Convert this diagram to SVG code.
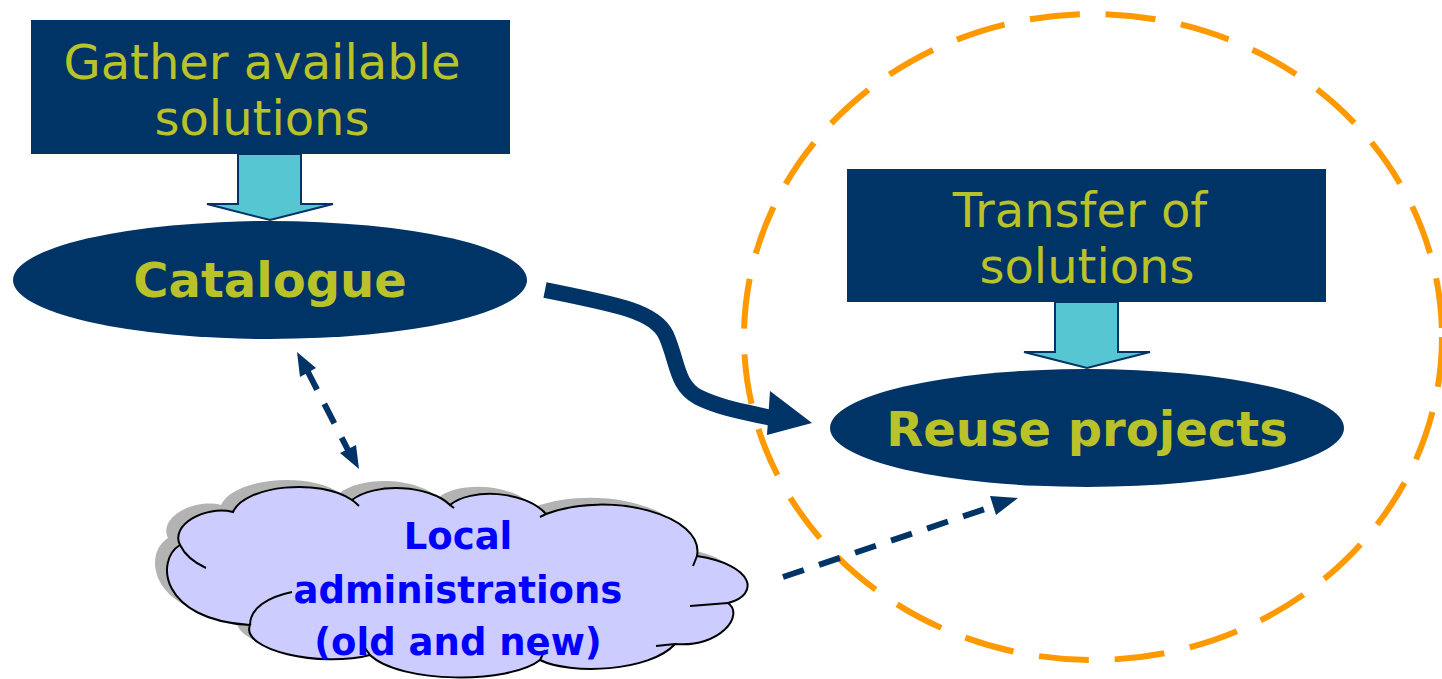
<svg xmlns="http://www.w3.org/2000/svg" width="1442" height="679" viewBox="0 0 1442 679">
<style>
.box{fill:#003366}
.t{font-family:"DejaVu Sans",Verdana,sans-serif;fill:#b9c228;text-anchor:middle}
.reg{font-size:48px}
.bold{font-size:48px;font-weight:bold}
.blk{fill:#55c6d2;stroke:#003366;stroke-width:2}
.ct{font-family:"DejaVu Sans",Verdana,sans-serif;fill:#0000ff;font-weight:bold;font-size:37px;text-anchor:middle}
.dash{fill:none;stroke:#003366;stroke-width:6;stroke-dasharray:22 16}
</style>
<defs>
<path id="cloud" d="M180 545 C170 525 205 505 233 512 C245 485 320 478 352 500 C375 482 430 485 450 505 C470 488 525 490 546 514 C610 490 705 515 697 556 C755 565 760 595 728 603 C745 615 720 648 675 644 C650 672 570 675 540 660 C510 684 400 684 370 655 C320 668 240 650 250 625 C160 620 155 560 180 545 Z"/>
</defs>
<g id="circle">
<ellipse cx="1093" cy="337" rx="349" ry="323" fill="none" stroke="#ff9900" stroke-width="6" stroke-dasharray="50 26"/>
</g>
<g id="gather">
<rect class="box" x="31" y="20" width="479" height="134"/>
<text class="t reg" x="262" y="79">Gather available</text>
<text class="t reg" x="262" y="135">solutions</text>
</g>
<g id="arrow-gather">
<path class="blk" d="M238 154 L301 154 L301 204 L333 204 L270 220 L207 204 L238 204 Z"/>
</g>
<g id="catalogue">
<ellipse class="box" cx="270" cy="280" rx="257" ry="59"/>
<text class="t bold" x="270" y="297">Catalogue</text>
</g>
<g id="transfer">
<rect class="box" x="847" y="169" width="479" height="133"/>
<text class="t reg" x="1080" y="227">Transfer of</text>
<text class="t reg" x="1087" y="283">solutions</text>
</g>
<g id="arrow-transfer">
<path class="blk" d="M1055 302 L1118 302 L1118 352 L1150 352 L1087 368 L1024 352 L1055 352 Z"/>
</g>
<g id="reuse">
<ellipse class="box" cx="1087" cy="428" rx="257" ry="59"/>
<text class="t bold" x="1087" y="446">Reuse projects</text>
</g>
<g id="local">
<use href="#cloud" transform="translate(-12 -7)" fill="#b3b3b3"/>
<use href="#cloud" fill="#ccccff" stroke="#000" stroke-width="2"/>
<g fill="none" stroke="#000" stroke-width="2">
<path d="M180 545 C185 555 195 563 206 568"/>
<path d="M352 500 C355 502 357 504 359 506"/>
<path d="M450 505 L454 508"/>
<path d="M546 514 L540 517"/>
<path d="M697 556 L693 566"/>
<path d="M728 603 L690 606"/>
<path d="M675 644 L656 646"/>
<path d="M540 660 L545 650"/>
<path d="M370 655 L365 648"/>
<path d="M250 625 C250 608 268 597 292 592"/>
</g>
<text class="ct" x="458" y="549">Local</text>
<text class="ct" x="458" y="603">administrations</text>
<text class="ct" x="458" y="655">(old and new)</text>
</g>
<g id="connectors">
<path d="M545 290 C620 305 655 312 666 335 C678 362 676 385 698 397 C720 408 745 412 772 418" fill="none" stroke="#003366" stroke-width="16"/>
<path d="M770 391 L812 423 L767 435 Z" fill="#003366"/>
<path class="dash" d="M307 370 L349 452"/>
<path d="M297 352 L316 368 L300 377 Z" fill="#003366"/>
<path d="M359 469 L340 453 L356 445 Z" fill="#003366"/>
<path class="dash" d="M783 577 L1000 504"/>
<path d="M1018 498 L996 515 L990 496 Z" fill="#003366"/>
</g>
</svg>
